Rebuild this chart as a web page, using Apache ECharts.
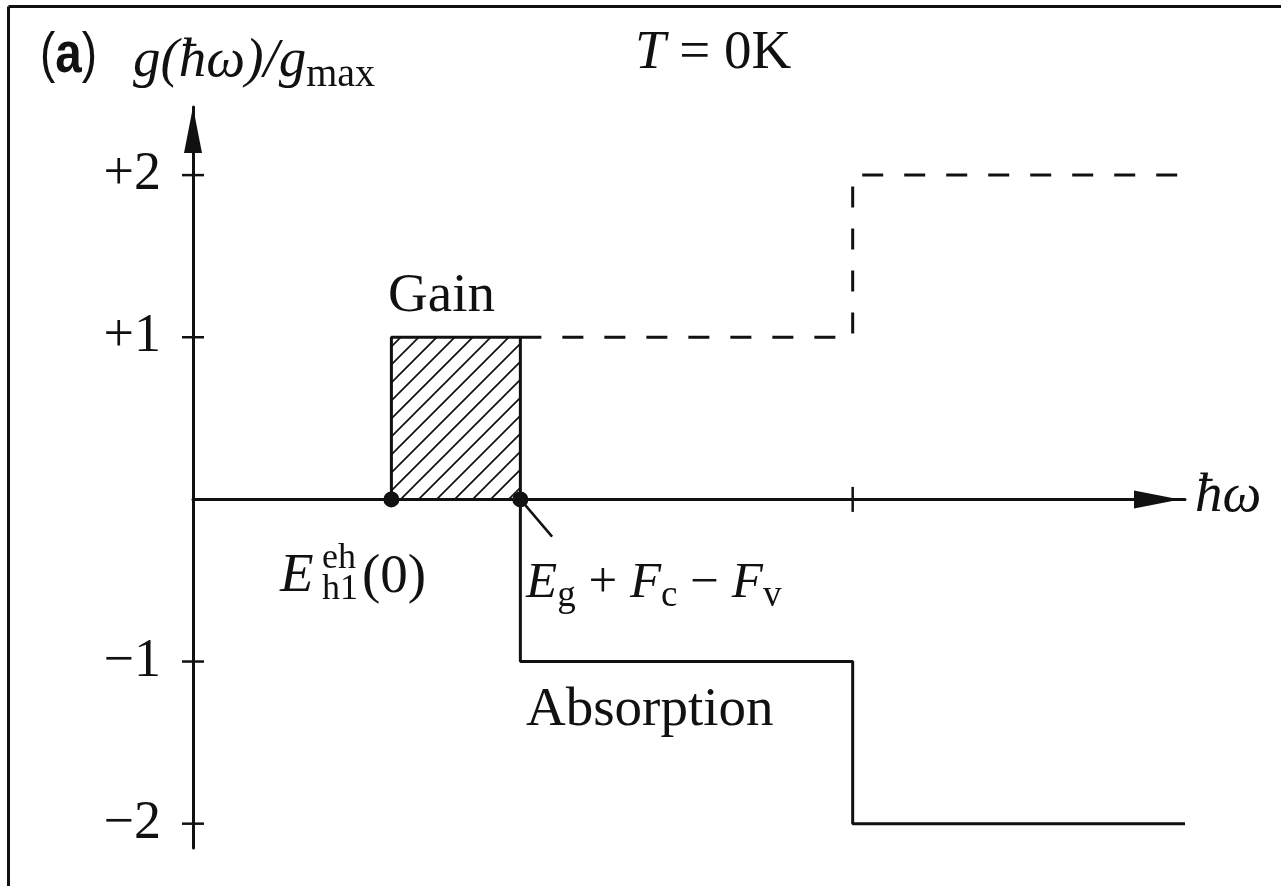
<!DOCTYPE html>
<html>
<head>
<meta charset="utf-8">
<script src="https://cdn.jsdelivr.net/npm/echarts@6/dist/echarts.min.js"></script>
<style>
  html, body { margin: 0; padding: 0; background: #fff; }
  #chart { width: 1281px; height: 886px; }
</style>
</head>
<body>
<div id="chart"></div>
<script>
// Gain spectrum g(ħω)/g_max of a quantum well at T = 0 K (photon energy in arbitrary units)
const gainBlock    = [[2.0, 1], [3.3, 1]];                       // hatched gain region
const solidStep    = [[2.0, 0], [2.0, 1], [3.3, 1], [3.3, -1],
                      [6.65, -1], [6.65, -2], [10, -2]];         // gain / absorption curve
const dashedStep   = [[3.3, 1], [6.65, 1], [6.65, 2], [10, 2]];  // unpumped continuation
const markerPoints = [[2.0, 0], [3.3, 0]];                       // E_h1^eh(0), E_g + F_c - F_v
const pointerLine  = [[3.3, 0], [3.62, -0.23]];
const yTickValues  = [-2, -1, 1, 2];
const xTickValues  = [6.65];

const INK = '#111';
const SERIF = '"Liberation Serif", "Times New Roman", serif';

function hatchPattern(size, width) {
  const c = document.createElement('canvas');
  c.width = c.height = size;
  const g = c.getContext('2d');
  g.strokeStyle = INK;
  g.lineWidth = width;
  g.beginPath();
  g.moveTo(-2, size + 2); g.lineTo(size + 2, -2);
  g.moveTo(-2, 2); g.lineTo(2, -2);
  g.moveTo(size - 2, size + 2); g.lineTo(size + 2, size - 2);
  g.stroke();
  return c;
}

const it  = { fontFamily: SERIF, fontStyle: 'italic', fontSize: 55, lineHeight: 66, fill: INK };
const rm  = { fontFamily: SERIF, fontSize: 55, lineHeight: 66, fill: INK };
const sub = { fontFamily: SERIF, fontSize: 40, lineHeight: 38, verticalAlign: 'bottom', fill: INK };
const it2  = { fontFamily: SERIF, fontStyle: 'italic', fontSize: 51, lineHeight: 62, fill: INK };
const rm2  = { fontFamily: SERIF, fontSize: 51, lineHeight: 62, fill: INK };
const sub2 = { fontFamily: SERIF, fontSize: 37, lineHeight: 34, verticalAlign: 'bottom', fill: INK };

function label(x, y, text, rich, extra) {
  return Object.assign({
    type: 'text', x: x, y: y, silent: true,
    style: { text: text, rich: rich, align: 'left', verticalAlign: 'middle', fill: INK }
  }, extra || {});
}

const chart = echarts.init(document.getElementById('chart'), null, { renderer: 'canvas' });

// tick marks crossing the axes, built from the tick value lists
const yTickMarks = yTickValues.map(v => [0, v]);
const xTickMarks = xTickValues.map(v => [v, 0]);

chart.setOption({
  animation: false,
  backgroundColor: '#fff',
  grid: { left: 193, right: 96, top: 107, bottom: 38 },
  xAxis: {
    type: 'value', min: 0, max: 10,
    axisLine: { show: true, onZero: true, symbol: ['none', 'triangle'],
                symbolSize: [18, 46], symbolOffset: [0, -28],
                lineStyle: { color: INK, width: 3 } },
    axisTick: { show: false },
    axisLabel: { show: false },
    splitLine: { show: false }
  },
  yAxis: {
    type: 'value', min: -2.15, max: 2.42,
    axisLine: { show: true, onZero: true, symbol: ['none', 'triangle'],
                symbolSize: [18, 46], symbolOffset: [0, -23],
                lineStyle: { color: INK, width: 3 } },
    axisTick: { show: false },
    axisLabel: {
      show: true, customValues: yTickValues, margin: 32,
      fontFamily: SERIF, fontSize: 54, color: INK, padding: [16, 0, 0, 0],
      formatter: v => (v > 0 ? '+' : '\u2212') + Math.abs(v)
    },
    splitLine: { show: false }
  },
  series: [
    {
      name: 'gain', type: 'line', data: gainBlock, symbol: 'none', z: 1,
      lineStyle: { width: 0 },
      areaStyle: { color: { image: hatchPattern(18, 1.7), repeat: 'repeat' }, opacity: 1 }
    },
    {
      name: 'curve', type: 'line', data: solidStep, symbol: 'none', clip: false, z: 3,
      lineStyle: { color: INK, width: 3 }
    },
    {
      name: 'continuation', type: 'line', data: dashedStep, symbol: 'none', clip: false, z: 2,
      lineStyle: { color: INK, width: 3, type: [21, 21] }
    },
    {
      name: 'pointer', type: 'line', data: pointerLine, symbol: 'none', clip: false, z: 3,
      lineStyle: { color: INK, width: 2.5 }
    },
    {
      name: 'edges', type: 'scatter', data: markerPoints, symbol: 'circle', symbolSize: 16,
      z: 4, itemStyle: { color: INK, opacity: 1 }
    },
    {
      name: 'yTicks', type: 'scatter', data: yTickMarks, symbol: 'rect', symbolSize: [22, 2.5],
      clip: false, z: 4, silent: true, itemStyle: { color: INK, opacity: 1 }
    },
    {
      name: 'xTicks', type: 'scatter', data: xTickMarks, symbol: 'rect', symbolSize: [2.5, 25],
      clip: false, z: 4, silent: true, itemStyle: { color: INK, opacity: 1 }
    }
  ],
  graphic: [
    { type: 'line', silent: true, shape: { x1: 8.5, y1: 6.5, x2: 1281, y2: 6.5 },
      style: { stroke: INK, lineWidth: 3 } },
    { type: 'line', silent: true, shape: { x1: 8.5, y1: 6.5, x2: 8.5, y2: 886 },
      style: { stroke: INK, lineWidth: 3 } },
    label(40, 56, '{p|(}{b|a}{p|)}', {
      p: { fontFamily: '"Liberation Sans", Arial, sans-serif', fontSize: 56, fill: INK },
      b: { fontFamily: '"Liberation Sans", Arial, sans-serif', fontSize: 58, fontWeight: 'bold', fill: INK }
    }, { scaleX: 0.82 }),
    label(133, 62, '{i|g(\u0127\u03c9)/g}{s|max}', { i: it, s: sub }),
    label(635, 54, '{i|T}{r| = 0K}', { i: it, r: rm }),
    label(388, 297, '{r|Gain}', { r: rm }),
    label(526, 711, '{r|Absorption}', { r: rm }),
    label(280, 577, '{i|E}', { i: it }),
    label(322, 559, '{s|eh}', { s: { fontFamily: SERIF, fontSize: 36, fill: INK } }),
    label(322, 590, '{s|h1}', { s: { fontFamily: SERIF, fontSize: 36, fill: INK } }),
    label(362, 578, '{r|(0)}', { r: rm }),
    label(526, 584, '{i|E}{s|g}{r| + }{i|F}{s|c}{r| \u2212 }{i|F}{s|v}', { i: it2, r: rm2, s: sub2 }),
    label(1195, 497, '{i|\u0127\u03c9}', { i: it })
  ]
});
</script>
</body>
</html>
